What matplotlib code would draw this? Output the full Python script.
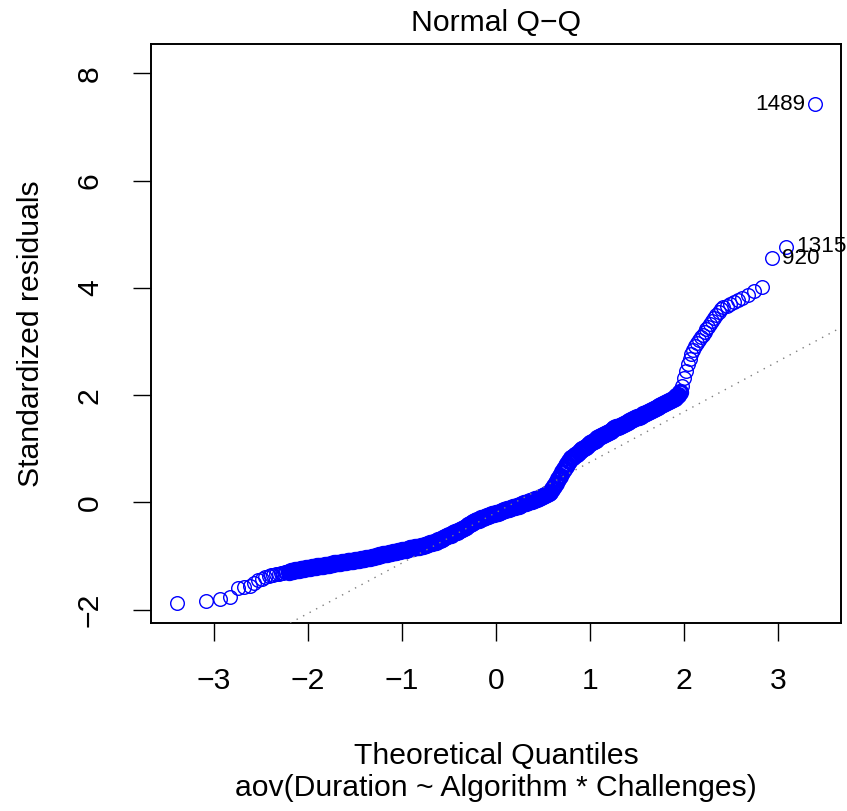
import matplotlib
matplotlib.use("Agg")
import matplotlib.pyplot as plt

plt.rcParams['font.family'] = ['Liberation Sans', 'DejaVu Sans']

# lower tail: theoretical quantile / standardized residual
lower_q = [-3.40, -3.09, -2.94, -2.83, -2.75, -2.68, -2.62, -2.58, -2.53, -2.49,
           -2.46, -2.42, -2.39, -2.37, -2.34, -2.31, -2.29, -2.27, -2.25, -2.23]
lower_r = [-1.87, -1.84, -1.80, -1.76, -1.59, -1.58, -1.56, -1.50, -1.45, -1.42,
           -1.39, -1.37, -1.36, -1.35, -1.34, -1.33, -1.32, -1.31, -1.30, -1.30]

# dense body of the plot
body_q = [-2.20, -2.18, -2.16, -2.14, -2.12, -2.10, -2.08, -2.06, -2.04, -2.02, -2.00,
          -1.98, -1.96, -1.94, -1.92, -1.90, -1.88, -1.86, -1.84, -1.82, -1.80,
          -1.78, -1.76, -1.74, -1.72, -1.70, -1.68, -1.66, -1.64, -1.62, -1.60,
          -1.58, -1.56, -1.54, -1.52, -1.50, -1.48, -1.46, -1.44, -1.42, -1.40,
          -1.38, -1.36, -1.34, -1.32, -1.30, -1.28, -1.26, -1.24, -1.22, -1.20,
          -1.18, -1.16, -1.14, -1.12, -1.10, -1.08, -1.06, -1.04, -1.02, -1.00,
          -0.98, -0.96, -0.94, -0.92, -0.90, -0.88, -0.86, -0.84, -0.82, -0.80,
          -0.78, -0.76, -0.74, -0.72, -0.70, -0.68, -0.66, -0.64, -0.62, -0.60,
          -0.58, -0.56, -0.54, -0.52, -0.50, -0.48, -0.46, -0.44, -0.42, -0.40,
          -0.38, -0.36, -0.34, -0.32, -0.30, -0.28, -0.26, -0.24, -0.22, -0.20,
          -0.18, -0.16, -0.14, -0.12, -0.10, -0.08, -0.06, -0.04, -0.02, 0.00,
          0.02, 0.04, 0.06, 0.08, 0.10, 0.12, 0.14, 0.16, 0.18, 0.20,
          0.22, 0.24, 0.26, 0.28, 0.30, 0.32, 0.34, 0.36, 0.38, 0.40,
          0.42, 0.44, 0.46, 0.48, 0.50, 0.52, 0.54, 0.56, 0.58, 0.60,
          0.62, 0.64, 0.66, 0.68, 0.70, 0.72, 0.74, 0.76, 0.78, 0.80,
          0.82, 0.84, 0.86, 0.88, 0.90, 0.92, 0.94, 0.96, 0.98, 1.00,
          1.02, 1.04, 1.06, 1.08, 1.10, 1.12, 1.14, 1.16, 1.18, 1.20,
          1.22, 1.24, 1.26, 1.28, 1.30, 1.32, 1.34, 1.36, 1.38, 1.40,
          1.42, 1.44, 1.46, 1.48, 1.50, 1.52, 1.54, 1.56, 1.58, 1.60,
          1.62, 1.64, 1.66, 1.68, 1.70, 1.72, 1.74, 1.76, 1.78, 1.80,
          1.82, 1.84, 1.86, 1.88, 1.90, 1.92, 1.94, 1.96]
body_r = [-1.29, -1.28, -1.28, -1.27, -1.26, -1.26, -1.25, -1.24, -1.24, -1.23, -1.22,
          -1.22, -1.21, -1.21, -1.20, -1.19, -1.19, -1.18, -1.18, -1.17, -1.16,
          -1.16, -1.15, -1.15, -1.14, -1.14, -1.13, -1.13, -1.12, -1.12, -1.11,
          -1.10, -1.10, -1.09, -1.09, -1.08, -1.08, -1.07, -1.06, -1.06, -1.05,
          -1.04, -1.04, -1.03, -1.02, -1.01, -1.00, -1.00, -0.99, -0.98, -0.97,
          -0.96, -0.96, -0.95, -0.94, -0.93, -0.92, -0.92, -0.91, -0.90, -0.89,
          -0.88, -0.88, -0.87, -0.86, -0.86, -0.85, -0.84, -0.84, -0.83, -0.82,
          -0.81, -0.80, -0.79, -0.77, -0.76, -0.75, -0.74, -0.73, -0.71, -0.70,
          -0.68, -0.67, -0.65, -0.63, -0.61, -0.60, -0.58, -0.56, -0.55, -0.53,
          -0.51, -0.49, -0.47, -0.45, -0.43, -0.41, -0.39, -0.37, -0.35, -0.33,
          -0.32, -0.30, -0.29, -0.28, -0.26, -0.25, -0.24, -0.22, -0.21, -0.20,
          -0.19, -0.18, -0.16, -0.15, -0.14, -0.13, -0.12, -0.10, -0.09, -0.08,
          -0.07, -0.06, -0.04, -0.03, -0.02, -0.01, 0.01, 0.02, 0.03, 0.05,
          0.06, 0.07, 0.09, 0.10, 0.12, 0.13, 0.15, 0.17, 0.20, 0.25,
          0.30, 0.36, 0.43, 0.50, 0.57, 0.62, 0.67, 0.72, 0.77, 0.82,
          0.85, 0.88, 0.91, 0.94, 0.97, 0.99, 1.02, 1.04, 1.07, 1.10,
          1.12, 1.15, 1.17, 1.20, 1.22, 1.24, 1.26, 1.28, 1.30, 1.32,
          1.34, 1.36, 1.38, 1.40, 1.41, 1.43, 1.45, 1.47, 1.48, 1.50,
          1.52, 1.53, 1.55, 1.57, 1.59, 1.60, 1.62, 1.64, 1.65, 1.67,
          1.69, 1.71, 1.72, 1.74, 1.76, 1.78, 1.80, 1.81, 1.83, 1.85,
          1.87, 1.89, 1.91, 1.93, 1.95, 1.98, 2.01, 2.05]

# upper tail
upper_q = [1.98, 2.00, 2.02, 2.04, 2.06, 2.08, 2.10, 2.12, 2.14, 2.16,
           2.18, 2.20, 2.22, 2.24, 2.26, 2.28, 2.30, 2.32, 2.34, 2.37,
           2.39, 2.42, 2.46, 2.49, 2.53, 2.58, 2.62, 2.68, 2.75, 2.83]
upper_r = [2.18, 2.32, 2.45, 2.58, 2.68, 2.77, 2.85, 2.92, 2.98, 3.03,
           3.08, 3.13, 3.18, 3.23, 3.28, 3.33, 3.38, 3.44, 3.50, 3.56,
           3.60, 3.64, 3.67, 3.70, 3.73, 3.77, 3.82, 3.87, 3.94, 4.02]

# labelled outliers
outlier_q = [2.94, 3.09, 3.40]
outlier_r = [4.55, 4.77, 7.43]
outlier_id = ["920", "1315", "1489"]

# qqline (through the quartiles)
ref_intercept = -0.19
ref_slope = 0.94

x_ticks = [-3, -2, -1, 0, 1, 2, 3]
y_ticks = [-2, 0, 2, 4, 6, 8]

fig = plt.figure(figsize=(8.47, 8.11), dpi=100)
ax = fig.add_axes([151 / 847, 1 - 623 / 811, 690 / 847, 579 / 811])

blue = '#0000ff'
# sparse points: single rings are visible
ax.plot(lower_q + upper_q + outlier_q, lower_r + upper_r + outlier_r,
        linestyle='none', marker='o', markersize=9.8, markerfacecolor='none',
        markeredgecolor=blue, markeredgewidth=1.0, zorder=2)
# dense body: overlapping rings merge into a solid band
ax.plot(body_q, body_r, linestyle='none', marker='o', markersize=10.3,
        markerfacecolor='none', markeredgecolor=blue, markeredgewidth=2.2,
        zorder=2)

ax.axline((0, ref_intercept), slope=ref_slope, color='#7f7f7f', lw=1.0,
          linestyle=(0, (1, 4.3)), zorder=3)

# point labels
ax.annotate(outlier_id[0], (outlier_q[0], outlier_r[0]), xytext=(7.2, 0),
            textcoords='offset points', ha='left', va='center', fontsize=16.2,
            annotation_clip=False)
ax.annotate(outlier_id[1], (outlier_q[1], outlier_r[1]), xytext=(7.2, 0),
            textcoords='offset points', ha='left', va='center', fontsize=16.2,
            annotation_clip=False)
ax.annotate(outlier_id[2], (outlier_q[2], outlier_r[2]), xytext=(-7.2, 0),
            textcoords='offset points', ha='right', va='center', fontsize=16.2,
            annotation_clip=False)

ax.set_xlim(-3.672, 3.672)
ax.set_ylim(-2.25, 8.55)
ax.set_xticks(x_ticks)
ax.set_yticks(y_ticks)
ax.tick_params(axis='both', length=13, width=1.0, labelsize=21.7, direction='out')
ax.tick_params(axis='x', pad=18.5)
ax.tick_params(axis='y', pad=21)
for lab in ax.get_yticklabels():
    lab.set_rotation(90)
    lab.set_va('center')
for s in ax.spines.values():
    s.set_linewidth(1.4)

ax.set_title("Normal Q\u2212Q", fontsize=21.7, pad=9.5)
ax.set_xlabel("Theoretical Quantiles\naov(Duration ~ Algorithm * Challenges)",
              fontsize=21.7, labelpad=34)
ax.set_ylabel("Standardized residuals", fontsize=21.7, labelpad=22)

fig.savefig("out.png", dpi=100)
